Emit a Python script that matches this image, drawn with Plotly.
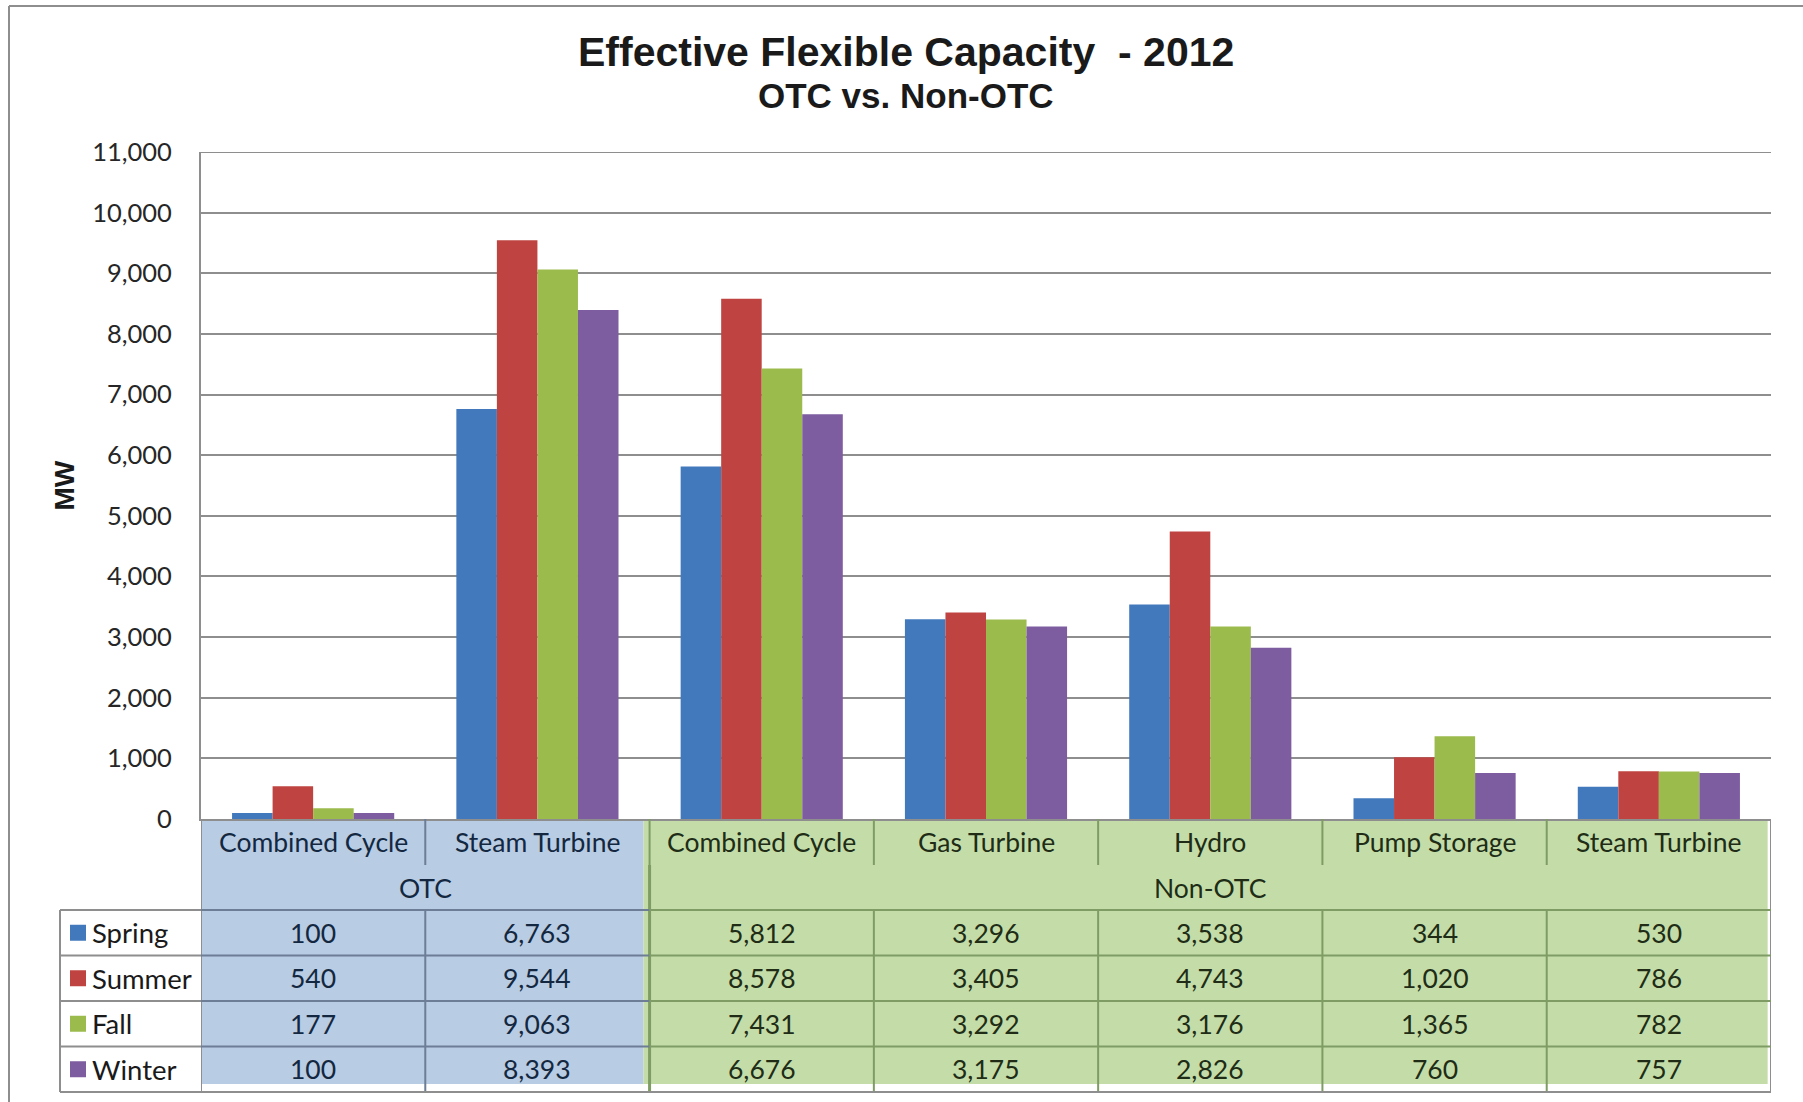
import plotly.graph_objects as go

# ---- data ----
categories = ["Combined Cycle", "Steam Turbine", "Combined Cycle", "Gas Turbine",
              "Hydro", "Pump Storage", "Steam Turbine"]
groups = ["OTC", "Non-OTC"]
group_sizes = [2, 5]
seasons = ["Spring", "Summer", "Fall", "Winter"]
spring = [100, 6763, 5812, 3296, 3538, 344, 530]
summer = [540, 9544, 8578, 3405, 4743, 1020, 786]
fall = [177, 9063, 7431, 3292, 3176, 1365, 782]
winter = [100, 8393, 6676, 3175, 2826, 760, 757]
y_ticks = list(range(0, 11001, 1000))

series = [spring, summer, fall, winter]
colors = ["#4279BD", "#BF4441", "#9BBB4D", "#7D5CA0"]

# ---- canvas geometry (pixels) ----
W, H = 1803, 1102
PL, PR, PT, PB = 201, 1771, 152, 819          # plot area edges
ROW_H = 45.5
CAT_ROW = (819, 865)
GRP_ROW = (865, 910)
DATA_TOP = 910
LEG_LEFT = 60


def py(p):
    """pixel row -> paper y"""
    return (PB - p) / (PB - PT)


def px(p):
    """pixel column -> paper x"""
    return (p - PL) / (PR - PL)


fig = go.Figure()
xs = list(range(len(categories)))
for name, vals, col in zip(seasons, series, colors):
    fig.add_trace(go.Bar(x=xs, y=vals, name=name, marker=dict(color=col, line=dict(width=0)),
                         showlegend=False))

shapes = []
annotations = []

GRAY = "#8E8E8E"
BLUE_LINE = "#6C7D95"
GREEN_LINE = "#7E9C64"
BLUE_FILL = "#B8CCE4"
GREEN_FILL = "#C4DDA8"
BLUE_TXT = "#132840"
GREEN_TXT = "#202C16"
n = len(categories)
split = group_sizes[0] - 0.5   # boundary between OTC and Non-OTC


def line(x0, y0, x1, y1, color, width=2, xref="x"):
    shapes.append(dict(type="line", xref=xref, yref="paper", x0=x0, x1=x1,
                       y0=py(y0), y1=py(y1), line=dict(color=color, width=width), layer="above"))


# top gridline at the end of the value range
shapes.append(dict(type="line", xref="paper", yref="y", x0=0, x1=1,
                   y0=y_ticks[-1], y1=y_ticks[-1], line=dict(color=GRAY, width=2),
                   layer="below"))

# background fills of the data table
fill_bottom = DATA_TOP + ROW_H * len(seasons) - 8
shapes.append(dict(type="rect", xref="x", yref="paper", x0=-0.5, x1=split - 0.027,
                   y0=py(fill_bottom), y1=py(CAT_ROW[0] + 1), fillcolor=BLUE_FILL,
                   line=dict(width=0), layer="below"))
shapes.append(dict(type="rect", xref="x", yref="paper", x0=split - 0.027, x1=n - 0.5 - 0.015,
                   y0=py(fill_bottom), y1=py(CAT_ROW[0] + 1), fillcolor=GREEN_FILL,
                   line=dict(width=0), layer="below"))

table_bottom = DATA_TOP + ROW_H * len(seasons)

# vertical separators in the category-name row
for b in range(n - 1):
    xb = b + 0.5
    line(xb, CAT_ROW[0], xb, CAT_ROW[1], BLUE_LINE if xb < split else GREEN_LINE)
# group row separator
line(split, GRP_ROW[0], split, GRP_ROW[1], GREEN_LINE, 3)
# vertical separators in the data rows
for b in range(n - 1):
    xb = b + 0.5
    line(xb, DATA_TOP, xb, table_bottom, BLUE_LINE if xb < split else GREEN_LINE,
         3 if xb == split else 2)
# outer edges
line(-0.5, CAT_ROW[0], -0.5, table_bottom, GRAY)
line(n - 0.5, CAT_ROW[0], n - 0.5, table_bottom, GRAY)
shapes.append(dict(type="line", xref="paper", yref="paper", x0=px(LEG_LEFT), x1=px(LEG_LEFT),
                   y0=py(DATA_TOP), y1=py(table_bottom), line=dict(color=GRAY, width=2)))

# horizontal row lines
for r in range(len(seasons)):
    yy = DATA_TOP + ROW_H * r
    shapes.append(dict(type="line", xref="paper", yref="paper", x0=px(LEG_LEFT), x1=px(PL),
                       y0=py(yy), y1=py(yy), line=dict(color=GRAY, width=2)))
    line(-0.5, yy, split, yy, BLUE_LINE)
    line(split, yy, n - 0.5, yy, GREEN_LINE)
shapes.append(dict(type="line", xref="paper", yref="paper", x0=px(LEG_LEFT), x1=1,
                   y0=py(table_bottom), y1=py(table_bottom), line=dict(color=GRAY, width=2)))

TFONT = "Lato, 'Open Sans', sans-serif"
TSIZE = 26.5

# category names
for i, c in enumerate(categories):
    annotations.append(dict(x=i, y=py(sum(CAT_ROW) / 2), xref="x", yref="paper", text=c,
                            showarrow=False, yanchor="middle",
                            font=dict(family=TFONT, size=TSIZE,
                                      color=BLUE_TXT if i < split else GREEN_TXT)))
# group names
start = 0
for g, size in zip(groups, group_sizes):
    annotations.append(dict(x=start + (size - 1) / 2, y=py(sum(GRP_ROW) / 2), xref="x",
                            yref="paper", text=g, showarrow=False, yanchor="middle",
                            font=dict(family=TFONT, size=TSIZE,
                                      color=BLUE_TXT if start < split else GREEN_TXT)))
    start += size

# values and legend keys
for r, (name, vals, col) in enumerate(zip(seasons, series, colors)):
    yc = DATA_TOP + ROW_H * (r + 0.5)
    for i, v in enumerate(vals):
        annotations.append(dict(x=i, y=py(yc), xref="x", yref="paper", text=f"{v:,}",
                                showarrow=False, yanchor="middle",
                                font=dict(family=TFONT, size=TSIZE,
                                          color=BLUE_TXT if i < split else GREEN_TXT)))
    shapes.append(dict(type="rect", xref="paper", yref="paper", x0=px(70), x1=px(86),
                       y0=py(yc + 8), y1=py(yc - 8), fillcolor=col, line=dict(width=0)))
    annotations.append(dict(x=px(90), y=py(yc), xref="paper", yref="paper", text=name,
                            showarrow=False, xanchor="left", yanchor="middle",
                            font=dict(family=TFONT, size=27.5, color="#1A1A1A")))

# chart frame
shapes.append(dict(type="line", xref="paper", yref="paper", x0=px(9), x1=px(W + 5),
                   y0=py(6), y1=py(6), line=dict(color=GRAY, width=2)))
shapes.append(dict(type="line", xref="paper", yref="paper", x0=px(9), x1=px(9),
                   y0=py(6), y1=py(H + 5), line=dict(color=GRAY, width=2)))

# titles
annotations.append(dict(x=px(906), y=py(52), xref="paper", yref="paper",
                        text="<b>Effective Flexible Capacity  - 2012</b>", showarrow=False,
                        xanchor="center", yanchor="middle",
                        font=dict(family="Liberation Sans, Arial", size=41, color="#1A1A1A")))
annotations.append(dict(x=px(906), y=py(95), xref="paper", yref="paper",
                        text="<b>OTC vs. Non-OTC</b>", showarrow=False,
                        xanchor="center", yanchor="middle",
                        font=dict(family="Liberation Sans, Arial", size=35, color="#1A1A1A")))
annotations.append(dict(x=px(64), y=py((PT + PB) / 2), xref="paper", yref="paper",
                        text="<b>MW</b>", showarrow=False, textangle=-90,
                        xanchor="center", yanchor="middle",
                        font=dict(family="Liberation Sans, Arial", size=28, color="#1A1A1A")))

fig.update_layout(
    width=W, height=H, autosize=False,
    margin=dict(l=PL, r=W - PR, t=PT, b=H - PB, pad=0),
    paper_bgcolor="white", plot_bgcolor="white",
    barmode="group", bargap=0.277, bargroupgap=0,
    shapes=shapes, annotations=annotations,
    xaxis=dict(range=[-0.5, n - 0.5], showticklabels=False, showgrid=False, zeroline=False,
               showline=True, linecolor=GRAY, linewidth=2, fixedrange=True),
    yaxis=dict(range=[0, 11000], tickvals=y_ticks, tickformat=",", showgrid=True,
               gridcolor=GRAY, gridwidth=2, zeroline=False, showline=True,
               linecolor=GRAY, linewidth=2, ticks="", ticklabelstandoff=22,
               tickfont=dict(family=TFONT, size=25.5, color="#262626")),
)

fig.write_html("out.html")
